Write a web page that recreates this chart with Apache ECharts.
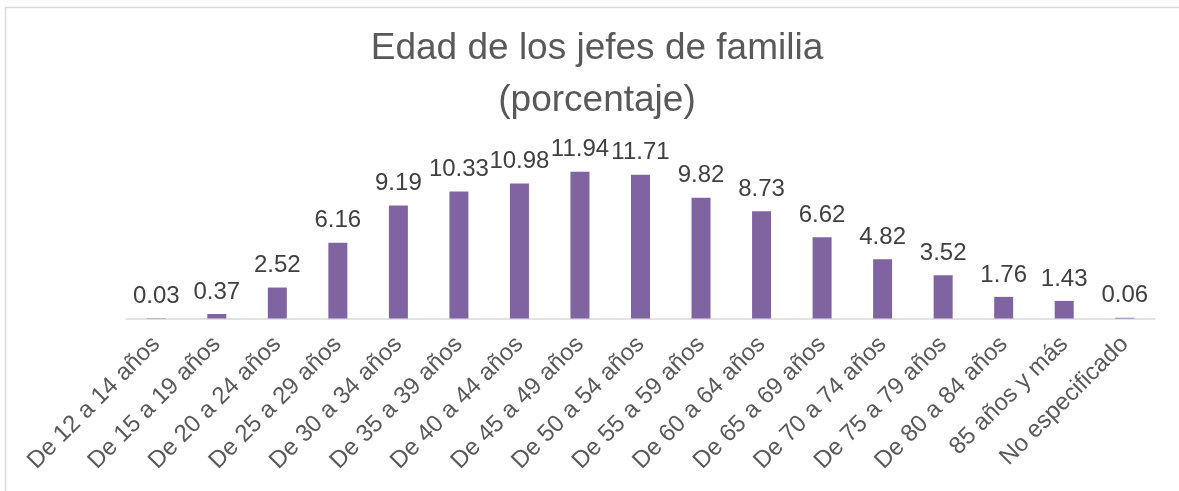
<!DOCTYPE html>
<html>
<head>
<meta charset="utf-8">
<script src="https://cdn.jsdelivr.net/npm/echarts@6/dist/echarts.min.js"></script>
<style>
  html, body { margin: 0; padding: 0; background: #fff; }
  #chart { width: 1179px; height: 491px; }
</style>
</head>
<body>
<div id="chart"></div>
<script>
    // categorias de edad y porcentaje de jefes de familia
    var edades = ['De 12 a 14 años', 'De 15 a 19 años', 'De 20 a 24 años', 'De 25 a 29 años',
                  'De 30 a 34 años', 'De 35 a 39 años', 'De 40 a 44 años', 'De 45 a 49 años',
                  'De 50 a 54 años', 'De 55 a 59 años', 'De 60 a 64 años', 'De 65 a 69 años',
                  'De 70 a 74 años', 'De 75 a 79 años', 'De 80 a 84 años', '85 años y más',
                  'No especificado'];
    var porcentajes = [0.03, 0.37, 2.52, 6.16, 9.19, 10.33, 10.98, 11.94, 11.71,
                       9.82, 8.73, 6.62, 4.82, 3.52, 1.76, 1.43, 0.06];

    var jefesChart = echarts.init(document.getElementById('chart'));
    var barOption = {
        animation: false,
        textStyle: {
            fontFamily: 'Liberation Sans, Arial, sans-serif'
        },
        title: {
            text: 'Edad de los jefes de familia\n(porcentaje)',
            left: 597,
            top: 23,
            padding: 0,
            textAlign: 'center',
            textStyle: {
                color: '#595959',
                fontSize: 37,
                fontWeight: 'normal',
                lineHeight: 52
            }
        },
        graphic: [
            {
                type: 'rect',
                shape: {x: 5.5, y: 7.5, width: 1200, height: 500},
                style: {fill: 'none', stroke: '#D9D9D9', lineWidth: 1.5},
                silent: true
            }
        ],
        grid: {
            left: 126,
            right: 24,
            top: 146.5,
            bottom: 172.5
        },
        xAxis: {
            type: 'category',
            data: edades,
            axisLine: {
                lineStyle: {color: '#D9D9D9', width: 1.5}
            },
            axisTick: {show: false},
            axisLabel: {
                interval: 0,
                rotate: 45,
                margin: 22,
                color: '#595959',
                fontSize: 24
            }
        },
        yAxis: {
            type: 'value',
            min: 0,
            max: 14,
            show: false
        },
        series: [
            {
                name: 'porcentaje',
                type: 'bar',
                data: porcentajes,
                barWidth: 19,
                itemStyle: {color: '#8064A2'},
                label: {
                    show: true,
                    position: 'top',
                    distance: 10,
                    color: '#404040',
                    fontSize: 24
                }
            }
        ]
    };

    jefesChart.setOption(barOption);
</script>
</body>
</html>
